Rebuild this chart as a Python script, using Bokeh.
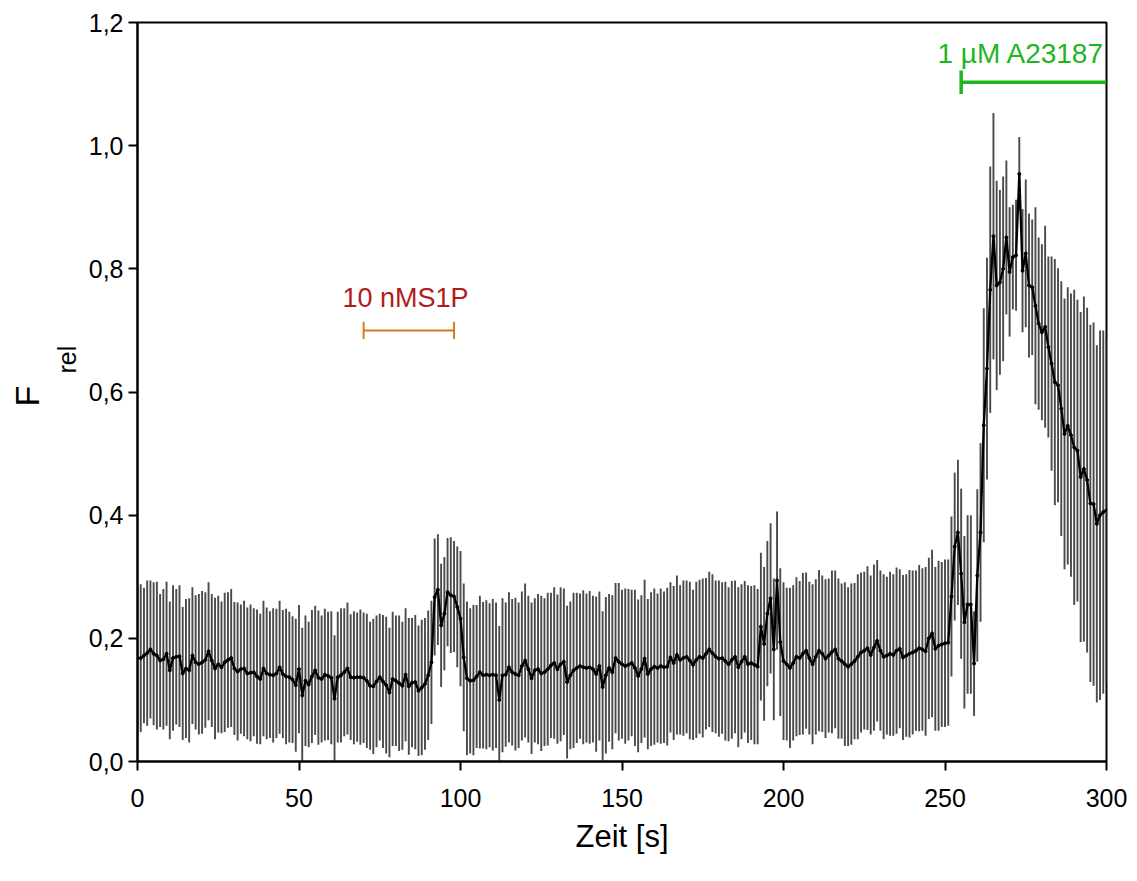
import numpy as np
from bokeh.plotting import figure
from bokeh.models import Range1d, FixedTicker, CustomJSTickFormatter, Label, ColumnDataSource, Title
from bokeh.embed import file_html
from bokeh.resources import INLINE

# ---------------- data ----------------
time_s = np.arange(0, 301)

mean_f = [
    0.168, 0.168, 0.172, 0.176, 0.182, 0.175, 0.172, 0.164, 0.166, 0.175,
    0.148, 0.168, 0.170, 0.171, 0.143, 0.151, 0.148, 0.172, 0.161, 0.158,
    0.161, 0.165, 0.179, 0.164, 0.151, 0.158, 0.153, 0.161, 0.165, 0.168,
    0.151, 0.146, 0.150, 0.151, 0.143, 0.144, 0.145, 0.138, 0.134, 0.151,
    0.143, 0.141, 0.140, 0.143, 0.153, 0.142, 0.138, 0.137, 0.133, 0.124,
    0.150, 0.107, 0.131, 0.125, 0.138, 0.148, 0.136, 0.134, 0.141, 0.139,
    0.136, 0.102, 0.137, 0.140, 0.145, 0.151, 0.137, 0.136, 0.137, 0.137,
    0.136, 0.131, 0.123, 0.122, 0.130, 0.137, 0.130, 0.124, 0.112, 0.134,
    0.131, 0.127, 0.123, 0.141, 0.122, 0.128, 0.129, 0.115, 0.120, 0.126,
    0.140, 0.161, 0.267, 0.279, 0.221, 0.240, 0.275, 0.270, 0.268, 0.251,
    0.232, 0.169, 0.135, 0.131, 0.132, 0.138, 0.145, 0.140, 0.141, 0.140,
    0.141, 0.140, 0.100, 0.140, 0.141, 0.153, 0.145, 0.142, 0.140, 0.155,
    0.164, 0.150, 0.135, 0.148, 0.150, 0.143, 0.145, 0.150, 0.156, 0.160,
    0.150, 0.158, 0.162, 0.129, 0.140, 0.148, 0.152, 0.155, 0.153, 0.152,
    0.153, 0.150, 0.142, 0.155, 0.121, 0.140, 0.152, 0.145, 0.168, 0.162,
    0.158, 0.155, 0.157, 0.160, 0.152, 0.139, 0.150, 0.167, 0.142, 0.150,
    0.154, 0.152, 0.155, 0.153, 0.154, 0.169, 0.160, 0.173, 0.165, 0.168,
    0.170, 0.164, 0.157, 0.165, 0.170, 0.168, 0.175, 0.182, 0.176, 0.170,
    0.167, 0.168, 0.163, 0.158, 0.165, 0.170, 0.153, 0.162, 0.170, 0.158,
    0.160, 0.157, 0.154, 0.219, 0.191, 0.240, 0.265, 0.182, 0.294, 0.194,
    0.163, 0.158, 0.152, 0.160, 0.170, 0.168, 0.175, 0.180, 0.168, 0.158,
    0.170, 0.180, 0.175, 0.167, 0.172, 0.178, 0.182, 0.167, 0.163, 0.158,
    0.154, 0.158, 0.163, 0.170, 0.177, 0.180, 0.184, 0.173, 0.185, 0.196,
    0.180, 0.170, 0.172, 0.175, 0.173, 0.180, 0.183, 0.169, 0.172, 0.175,
    0.177, 0.180, 0.184, 0.182, 0.179, 0.200, 0.208, 0.183, 0.188, 0.190,
    0.192, 0.193, 0.268, 0.349, 0.372, 0.305, 0.226, 0.255, 0.255, 0.159,
    0.302, 0.372, 0.546, 0.638, 0.766, 0.853, 0.773, 0.778, 0.800, 0.851,
    0.795, 0.819, 0.822, 0.954, 0.797, 0.825, 0.773, 0.770, 0.740, 0.711,
    0.697, 0.706, 0.673, 0.646, 0.616, 0.611, 0.573, 0.532, 0.545, 0.530,
    0.510, 0.505, 0.462, 0.475, 0.457, 0.419, 0.418, 0.386, 0.400, 0.405,
    0.408,
]

err_f = [
    0.115, 0.120, 0.110, 0.118, 0.112, 0.116, 0.120, 0.108, 0.114, 0.117,
    0.112, 0.118, 0.110, 0.115, 0.108, 0.113, 0.117, 0.111, 0.109, 0.114,
    0.116, 0.110, 0.112, 0.108, 0.115, 0.111, 0.107, 0.113, 0.110, 0.112,
    0.108, 0.112, 0.105, 0.110, 0.107, 0.111, 0.104, 0.109, 0.106, 0.110,
    0.107, 0.103, 0.109, 0.105, 0.108, 0.104, 0.110, 0.106, 0.103, 0.108,
    0.104, 0.110, 0.106, 0.102, 0.108, 0.105, 0.109, 0.103, 0.107, 0.104,
    0.108, 0.103, 0.106, 0.109, 0.104, 0.107, 0.102, 0.108, 0.105, 0.110,
    0.106, 0.109, 0.104, 0.110, 0.107, 0.103, 0.108, 0.111, 0.105, 0.109,
    0.106, 0.110, 0.104, 0.108, 0.111, 0.105, 0.109, 0.106, 0.110, 0.107,
    0.105, 0.100, 0.095, 0.090, 0.100, 0.092, 0.088, 0.094, 0.090, 0.098,
    0.110, 0.120, 0.125, 0.118, 0.122, 0.116, 0.124, 0.119, 0.121, 0.117,
    0.123, 0.118, 0.120, 0.125, 0.117, 0.122, 0.119, 0.124, 0.118, 0.121,
    0.125, 0.119, 0.123, 0.117, 0.122, 0.126, 0.120, 0.124, 0.118, 0.123,
    0.121, 0.125, 0.119, 0.124, 0.120, 0.126, 0.122, 0.118, 0.125, 0.121,
    0.124, 0.119, 0.126, 0.121, 0.123, 0.127, 0.120, 0.125, 0.122, 0.128,
    0.121, 0.126, 0.123, 0.119, 0.127, 0.124, 0.120, 0.128, 0.122, 0.125,
    0.127, 0.121, 0.126, 0.123, 0.128, 0.122, 0.125, 0.129, 0.121, 0.126,
    0.124, 0.128, 0.122, 0.127, 0.125, 0.129, 0.123, 0.126, 0.128, 0.124,
    0.127, 0.123, 0.129, 0.125, 0.128, 0.124, 0.130, 0.126, 0.123, 0.128,
    0.125, 0.129, 0.126, 0.120, 0.125, 0.118, 0.122, 0.115, 0.112, 0.120,
    0.128, 0.124, 0.130, 0.126, 0.129, 0.125, 0.131, 0.127, 0.124, 0.130,
    0.126, 0.131, 0.127, 0.129, 0.125, 0.132, 0.128, 0.130, 0.126, 0.133,
    0.129, 0.131, 0.127, 0.134, 0.130, 0.128, 0.133, 0.129, 0.135, 0.131,
    0.130, 0.134, 0.128, 0.133, 0.131, 0.135, 0.129, 0.134, 0.132, 0.136,
    0.133, 0.130, 0.135, 0.132, 0.137, 0.131, 0.136, 0.133, 0.138, 0.134,
    0.136, 0.135, 0.130, 0.120, 0.118, 0.138, 0.140, 0.145, 0.145, 0.085,
    0.140, 0.145, 0.190, 0.180, 0.200, 0.200, 0.170, 0.150, 0.150, 0.125,
    0.105, 0.085, 0.090, 0.060, 0.100, 0.120, 0.117, 0.110, 0.160, 0.140,
    0.143, 0.164, 0.147, 0.174, 0.200, 0.190, 0.207, 0.220, 0.225, 0.230,
    0.256, 0.245, 0.268, 0.280, 0.280, 0.290, 0.295, 0.290, 0.300, 0.295,
    0.280,
]

x_ticks = [0, 50, 100, 150, 200, 250, 300]
y_ticks = [0.0, 0.2, 0.4, 0.6, 0.8, 1.0, 1.2]

s1p_label = "10 nMS1P"
s1p_start, s1p_end = 70, 98
ionophore_label = "1 µM A23187"
ionophore_start, ionophore_end = 255, 300

# ---------------- figure ----------------
FONT = "Liberation Sans"

p = figure(width=1137, height=881, output_backend="svg", toolbar_location=None,
           x_range=Range1d(0, 300), y_range=Range1d(0, 1.2),
           min_border_left=137, min_border_right=31, min_border_top=22, min_border_bottom=120)
p.xgrid.visible = False
p.ygrid.visible = False
p.outline_line_color = "black"
p.outline_line_width = 2
p.background_fill_color = "white"
p.border_fill_color = "white"

mean_arr = np.array(mean_f)
err_arr = np.array(err_f)
src = ColumnDataSource(dict(t=time_s, m=mean_arr, lo=mean_arr - err_arr, hi=mean_arr + err_arr))

p.segment(x0="t", y0="lo", x1="t", y1="hi", source=src, line_color="#4a4a4a", line_width=1.9)
p.line(x="t", y="m", source=src, line_color="black", line_width=2.3)
p.scatter(x="t", y="m", source=src, size=3, color="black")

# annotations
p.segment(x0=[s1p_start, s1p_start, s1p_end], y0=[0.700, 0.686, 0.686],
          x1=[s1p_end, s1p_start, s1p_end], y1=[0.700, 0.714, 0.714],
          line_color="#d07d1c", line_width=2)
p.add_layout(Label(x=(s1p_start + s1p_end) / 2 - 1, y=0.753, text=s1p_label, text_align="center",
                   text_baseline="alphabetic", text_color="#b01c1c", text_font=FONT,
                   text_font_size="27px"))

p.segment(x0=[ionophore_start, ionophore_start], y0=[1.103, 1.084],
          x1=[ionophore_end, ionophore_start], y1=[1.103, 1.122],
          line_color="#1fb51f", line_width=3.5)
p.add_layout(Label(x=299.4, y=1.150, text=ionophore_label, text_align="right",
                   text_baseline="alphabetic", text_color="#1fb51f", text_font=FONT,
                   text_font_size="28px"))

# axes
for ax in (p.xaxis[0], p.yaxis[0]):
    ax.axis_line_color = "black"
    ax.axis_line_width = 2
    ax.major_tick_line_color = "black"
    ax.major_tick_line_width = 2
    ax.major_tick_out = 9
    ax.major_tick_in = 0
    ax.minor_tick_line_color = None
    ax.major_label_text_font = FONT
    ax.major_label_text_font_size = "25px"
    ax.major_label_text_color = "black"

p.xaxis.ticker = FixedTicker(ticks=x_ticks)
p.yaxis.ticker = FixedTicker(ticks=y_ticks)
p.yaxis.formatter = CustomJSTickFormatter(code="return tick.toFixed(1).replace('.', ',');")
p.xaxis.formatter = CustomJSTickFormatter(code="return tick.toFixed(0);")
p.xaxis.major_label_standoff = 18
p.yaxis.major_label_standoff = 5
p.xaxis.axis_label = "Zeit [s]"
p.xaxis.axis_label_text_font = FONT
p.xaxis.axis_label_text_font_size = "31px"
p.xaxis.axis_label_text_font_style = "normal"
p.xaxis.axis_label_text_color = "black"
p.xaxis.axis_label_standoff = 9

# y-axis label "F" with subscript "rel" as two side titles
p.add_layout(Title(text="rel", align="left", offset=388, standoff=10, text_font=FONT,
                   text_font_size="25px", text_font_style="normal", text_color="black",
                   text_line_height=0.8), "left")
p.add_layout(Title(text="F", align="left", offset=355, standoff=0, text_font=FONT,
                   text_font_size="34px", text_font_style="normal", text_color="black",
                   text_line_height=0.8), "left")

open("out.html", "w").write(file_html(p, INLINE))
